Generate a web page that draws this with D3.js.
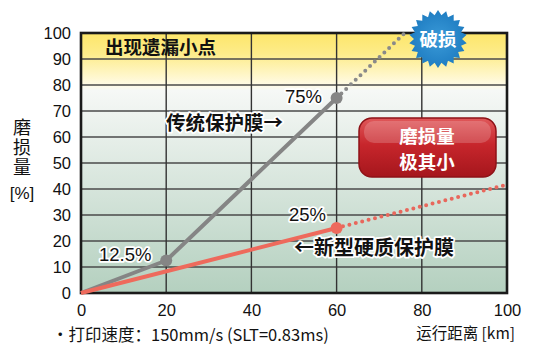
<!DOCTYPE html>
<html><head><meta charset="utf-8">
<script src="https://cdn.jsdelivr.net/npm/d3@7"></script>
<style>
html,body{margin:0;padding:0;background:#fff;}
svg{display:block;}
text{font-family:"Liberation Sans","Noto Sans CJK SC",sans-serif;}
.cjk{font-family:"Noto Sans CJK SC",sans-serif;}
</style></head>
<body>
<script>
// ---- data ----
const xTicks = [0, 20, 40, 60, 80, 100];
const yTicks = [0, 10, 20, 30, 40, 50, 60, 70, 80, 90, 100];
const convDist = [0, 20, 60];
const convWear = [0, 12.5, 75];
const convExtDist = [60, 76];
const convExtWear = [75, 100];
const newDist = [0, 60];
const newWear = [0, 25];
const newExtDist = [60, 100];
const newExtWear = [25, 41.7];
const convMarkDist = [20, 60];
const convMarkWear = [12.5, 75];
const newMarkDist = [60];
const newMarkWear = [25];

const W = 539, H = 357;
const svg = d3.select("body").append("svg").attr("width", W).attr("height", H);
const x = d3.scaleLinear().domain([0, 100]).range([81, 507]);
const y = d3.scaleLinear().domain([0, 100]).range([293, 33]);

const defs = svg.append("defs");
const bg = defs.append("linearGradient").attr("id", "bg").attr("x1", 0).attr("y1", 0).attr("x2", 0).attr("y2", 1);
bg.append("stop").attr("offset", "0%").attr("stop-color", "#fde66a");
bg.append("stop").attr("offset", "8%").attr("stop-color", "#fdec8a");
bg.append("stop").attr("offset", "20%").attr("stop-color", "#fffbe6");
bg.append("stop").attr("offset", "22%").attr("stop-color", "#f6f8f6");
bg.append("stop").attr("offset", "100%").attr("stop-color", "#b4d0bf");

const rg = defs.append("linearGradient").attr("id", "rg").attr("x1", 0).attr("y1", 0).attr("x2", 0).attr("y2", 1);
rg.append("stop").attr("offset", "0%").attr("stop-color", "#e0585a");
rg.append("stop").attr("offset", "45%").attr("stop-color", "#c7262c");
rg.append("stop").attr("offset", "100%").attr("stop-color", "#a5161c");

const bl = defs.append("radialGradient").attr("id", "bl");
bl.append("stop").attr("offset", "0%").attr("stop-color", "#3a9ad8");
bl.append("stop").attr("offset", "100%").attr("stop-color", "#1f7dc2");

// plot background
svg.append("rect").attr("x", x(0)).attr("y", y(100)).attr("width", x(100) - x(0)).attr("height", y(0) - y(100)).attr("fill", "url(#bg)");

// grid
svg.append("g").selectAll("line").data(yTicks.slice(1, -1)).join("line")
  .attr("x1", x(0)).attr("x2", x(100)).attr("y1", d => y(d)).attr("y2", d => y(d))
  .attr("stroke", "#4a4a4a").attr("stroke-width", 1.6);
svg.append("g").selectAll("line").data(xTicks.slice(1, -1)).join("line")
  .attr("y1", y(0)).attr("y2", y(100)).attr("x1", d => x(d)).attr("x2", d => x(d))
  .attr("stroke", "#333").attr("stroke-width", 1.4);

// border
svg.append("rect").attr("x", x(0)).attr("y", y(100)).attr("width", x(100) - x(0)).attr("height", y(0) - y(100))
  .attr("fill", "none").attr("stroke", "#1a1a1a").attr("stroke-width", 2.6);

// axes
const xAxis = svg.append("g").attr("transform", `translate(0,${y(0)})`)
  .call(d3.axisBottom(x).tickValues(xTicks).tickSize(0).tickPadding(11));
xAxis.select(".domain").remove();
xAxis.selectAll("text").attr("font-size", 16.5).attr("fill", "#111").attr("font-family", "Liberation Sans");
const yAxis = svg.append("g").attr("transform", `translate(${x(0)},0)`)
  .call(d3.axisLeft(y).tickValues(yTicks).tickSize(0).tickPadding(10));
yAxis.select(".domain").remove();
yAxis.selectAll("text").attr("font-size", 16.5).attr("fill", "#111").attr("font-family", "Liberation Sans");

// "出现遗漏小点"
svg.append("text").attr("class", "cjk").attr("x", 105).attr("y", 54).attr("font-size", 18.5).attr("font-weight", "bold")
  .attr("fill", "#111").text("出现遗漏小点");

// lines
const line = d3.line().x(d => x(d[0])).y(d => y(d[1]));
const zip = (a, b) => a.map((v, i) => [v, b[i]]);

svg.append("path").attr("d", line(zip(convExtDist, convExtWear))).attr("fill", "none")
  .attr("stroke", "#8a8a8a").attr("stroke-width", 4).attr("stroke-linecap", "round").attr("stroke-dasharray", "0 6.6");
svg.append("path").attr("d", line(zip(newExtDist, newExtWear))).attr("fill", "none")
  .attr("stroke", "#e8675c").attr("stroke-width", 4).attr("stroke-linecap", "round").attr("stroke-dasharray", "0 6.6");

svg.append("path").attr("d", line(zip(convDist, convWear))).attr("fill", "none")
  .attr("stroke", "#858585").attr("stroke-width", 4).attr("stroke-linejoin", "round");
svg.append("path").attr("d", line(zip(newDist, newWear))).attr("fill", "none")
  .attr("stroke", "#ee6a5c").attr("stroke-width", 4);

svg.append("g").selectAll("circle").data(zip(convMarkDist, convMarkWear)).join("circle")
  .attr("cx", d => x(d[0])).attr("cy", d => y(d[1])).attr("r", 6).attr("fill", "#858585");
svg.append("g").selectAll("circle").data(zip(newMarkDist, newMarkWear)).join("circle")
  .attr("cx", d => x(d[0])).attr("cy", d => y(d[1])).attr("r", 6).attr("fill", "#ee6a5c");

// halo text helper
function halo(tx, ty, str, size, weight, cls, anchor) {
  const t = svg.append("text").attr("x", tx).attr("y", ty).attr("font-size", size)
    .attr("font-weight", weight || "normal").attr("fill", "#111")
    .attr("stroke", "#fff").attr("stroke-width", 3.5).attr("stroke-linejoin", "round")
    .attr("paint-order", "stroke").attr("text-anchor", anchor || "start").text(str);
  if (cls) t.attr("class", cls);
  return t;
}
halo(99, 261, "12.5%", 18.5);
halo(285, 103, "75%", 18.5);
halo(289, 221, "25%", 18.5);
halo(166, 130, "传统保护膜→", 19.5, "bold", "cjk");
halo(294, 255, "←新型硬质保护膜", 20, "bold", "cjk");

// burst
const cx = 438, cy = 39, nPts = 22, rO = 29, rI = 24;
const pts = d3.range(nPts * 2).map(i => {
  const a = Math.PI * i / nPts - Math.PI / 2;
  const r = i % 2 === 0 ? rO : rI;
  return [cx + r * Math.cos(a), cy + r * Math.sin(a)];
});
svg.append("polygon").attr("points", pts.map(p => p.join(",")).join(" ")).attr("fill", "url(#bl)");
svg.append("text").attr("class", "cjk").attr("x", cx).attr("y", cy + 7).attr("text-anchor", "middle")
  .attr("font-size", 18.5).attr("font-weight", "bold").attr("fill", "#fff").text("破损");

// red box
svg.append("rect").attr("x", 359).attr("y", 118).attr("width", 137).attr("height", 59).attr("rx", 13)
  .attr("fill", "url(#rg)").attr("stroke", "#8e1217").attr("stroke-width", 1.5);
svg.append("rect").attr("x", 364).attr("y", 121).attr("width", 127).attr("height", 22).attr("rx", 10)
  .attr("fill", "#fff").attr("opacity", 0.18);
svg.append("text").attr("class", "cjk").attr("x", 427).attr("y", 143).attr("text-anchor", "middle")
  .attr("font-size", 18.5).attr("font-weight", "bold").attr("fill", "#fff").text("磨损量");
svg.append("text").attr("class", "cjk").attr("x", 427).attr("y", 169).attr("text-anchor", "middle")
  .attr("font-size", 18.5).attr("font-weight", "bold").attr("fill", "#fff").text("极其小");

// y title (vertical)
svg.append("text").attr("class", "cjk").attr("font-size", 18).attr("fill", "#111")
  .attr("x", 22).attr("y", 118).attr("writing-mode", "tb").attr("letter-spacing", 2)
  .text("磨损量");
svg.append("text").attr("x", 22).attr("y", 199).attr("text-anchor", "middle").attr("font-size", 17).attr("fill", "#111").text("[%]");

// notes
svg.append("text").attr("class", "cjk").attr("x", 52).attr("y", 341).attr("font-size", 16.5).attr("fill", "#111")
  .text("·打印速度：150mm/s (SLT=0.83ms)");
svg.append("text").attr("class", "cjk").attr("x", 515).attr("y", 339).attr("text-anchor", "end").attr("font-size", 15.5).attr("fill", "#111")
  .text("运行距离 [km]");
</script>
</body></html>
